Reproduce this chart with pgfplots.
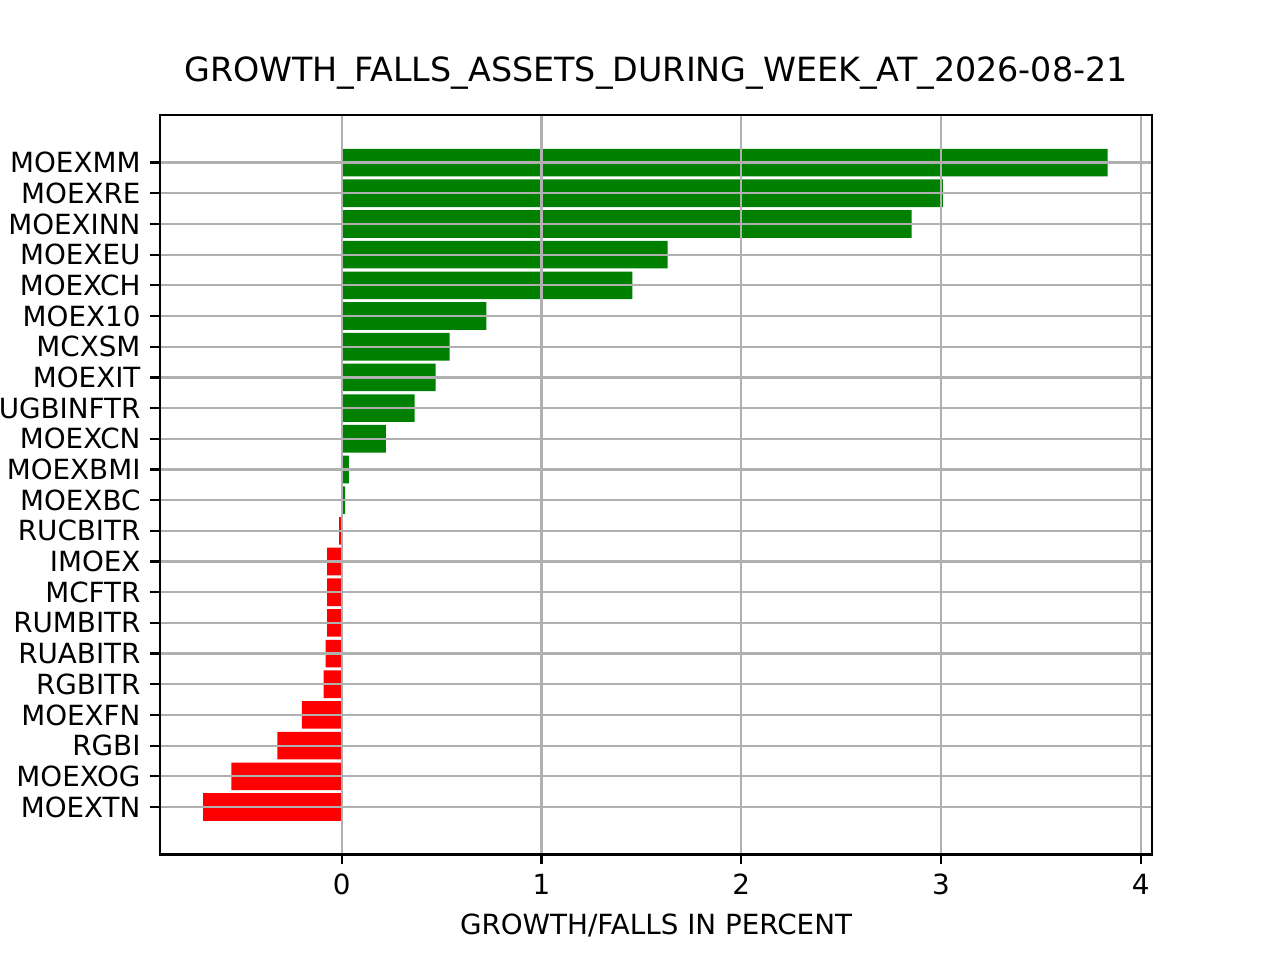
\documentclass[border=0pt]{standalone}
\usepackage{fontspec}
\setmainfont{DejaVu Sans}
\usepackage{pgfplots}
\pgfplotsset{compat=1.18}
\definecolor{mplgreen}{RGB}{0,128,0}
\definecolor{mplred}{RGB}{255,0,0}
\definecolor{mplgrid}{RGB}{176,176,176}
\begin{document}
\begin{tikzpicture}
\useasboundingbox (-57.6pt,-38.016pt) rectangle (403.2pt,307.584pt);
\begin{axis}[
  at={(0pt,0pt)}, anchor=south west,
  scale only axis, width=357.12pt, height=266.112pt,
  xmin=-0.909, xmax=4.056, ymin=-1.545, ymax=22.545,
  xbar, bar width=0.9, bar shift=0pt,
  axis on top,
  xmajorgrids, ymajorgrids,
  major grid style={mplgrid, line width=0.8pt},
  axis line style={black, line width=0.8pt},
  tick style={black, line width=0.8pt},
  tick align=outside, major tick length=3.5pt,
  xtick pos=bottom, ytick pos=left,
  xtick={0,1,2,3,4},
  ytick={0,...,21},
  yticklabels={MOEXTN,MOEXOG,RGBI,MOEXFN,RGBITR,RUABITR,RUMBITR,MCFTR,IMOEX,RUCBITR,MOEXBC,MOEXBMI,MOEXCN,RUGBINFTR,MOEXIT,MCXSM,MOEX10,MOEXCH,MOEXEU,MOEXINN,MOEXRE,MOEXMM},
  /pgf/number format/assume math mode=true,
  xticklabel style={font=\fontsize{10}{12}\selectfont},
  yticklabel style={font=\fontsize{10}{12}\selectfont},
  xlabel={GROWTH/FALLS IN PERCENT},
  xlabel style={font=\fontsize{10}{12}\selectfont},
  title={GROWTH\_FALLS\_ASSETS\_DURING\_WEEK\_AT\_2026-08-21},
  title style={font=\fontsize{12}{14.4}\selectfont, at={(0.5,1)}, anchor=base, yshift=6pt, inner sep=0pt},
]
\addplot[fill=mplgreen, draw=none] coordinates {
(3.834,21) (3.009,20) (2.853,19) (1.632,18) (1.455,17) (0.724,16)
(0.540,15) (0.470,14) (0.365,13) (0.222,12) (0.036,11) (0.018,10)
};
\addplot[fill=mplred, draw=none] coordinates {
(-0.013,9) (-0.072,8) (-0.072,7) (-0.072,6) (-0.080,5) (-0.090,4)
(-0.199,3) (-0.322,2) (-0.552,1) (-0.693,0)
};
\end{axis}
\end{tikzpicture}
\end{document}
